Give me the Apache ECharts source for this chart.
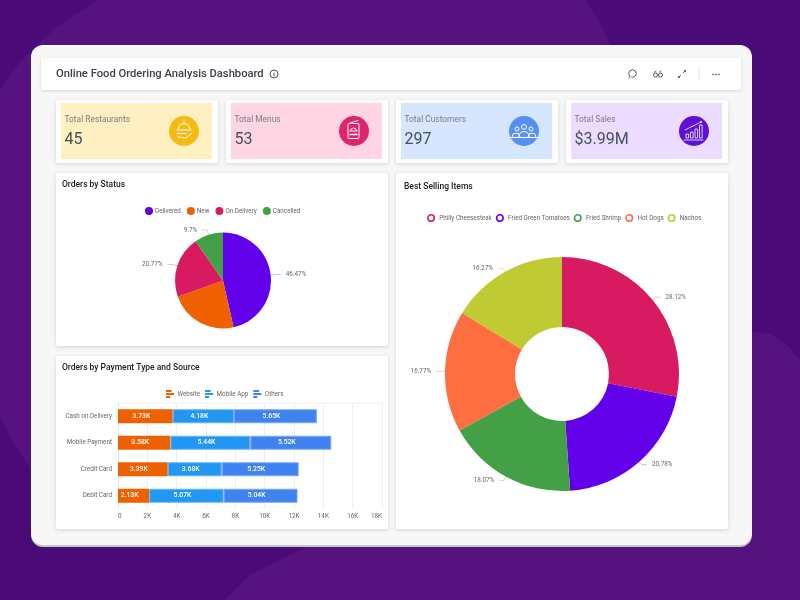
<!DOCTYPE html>
<html>
<head>
<meta charset="utf-8">
<title>Online Food Ordering Analysis Dashboard</title>
<style>
html,body{margin:0;padding:0;background:#4a0a78;}
#main{width:800px;height:600px;}
</style>
</head>
<body>
<div id="main"></div>
<script src="https://cdn.jsdelivr.net/npm/echarts@6/dist/echarts.min.js"></script>
<script>
// kpi cards
var kpiNames = ["Total Restaurants", "Total Menus", "Total Customers", "Total Sales"];
var kpiValues = ["45", "53", "297", "$3.99M"];
// orders by status
var statusNames = ["Delivered", "New", "On Delivery", "Cancelled"];
var statusValues = [46.47, 23.06, 20.77, 9.7];
var statusColors = ["#6200ea", "#ef6100", "#d81b60", "#43a047"];
// best selling items
var itemNames = ["Philly Cheesesteak", "Fried Green Tomatoes", "Fried Shrimp", "Hot Dogs", "Nachos"];
var itemValues = [28.12, 20.78, 18.07, 16.77, 16.27];
var itemColors = ["#d81b60", "#6200ea", "#43a047", "#ff6e40", "#c0ca33"];
// payment type and source
var payTypes = ["Cash on Delivery", "Mobile Payment", "Credit Card", "Debit Card"];
var sourceNames = ["Website", "Mobile App", "Others"];
var websiteValues = [3730, 3580, 3390, 2130];
var mobileValues = [4180, 5440, 3680, 5070];
var otherValues = [5650, 5520, 5250, 5040];
var payColors = ["#ef6100", "#2196f3", "#3f83f0"];
var payBorders = ["#f58a45", "#64b5f6", "#7aa9f5"];

var font = "Roboto";
var chart = echarts.init(document.getElementById("main"));

function rect(x, y, w, h, fill, r, shadow) {
    return {
        type: "rect", silent: true,
        shape: {x: x, y: y, width: w, height: h, r: r || 0},
        style: {
            fill: fill,
            shadowBlur: shadow || 0,
            shadowColor: "rgba(60,60,60,0.18)",
            shadowOffsetY: shadow ? 1 : 0
        }
    };
}
function text(x, y, str, size, color, weight) {
    return {
        type: "text", silent: true, x: x, y: y,
        style: {text: str, fontFamily: font, fontSize: size, fill: color, fontWeight: weight || 400, verticalAlign: "middle"}
    };
}
function line(x1, y1, x2, y2, color, w) {
    return {type: "line", silent: true, shape: {x1: x1, y1: y1, x2: x2, y2: y2}, style: {stroke: color, lineWidth: w || 1, lineCap: "round"}};
}
function ring(x, y, r, color, w) {
    return {type: "circle", silent: true, shape: {cx: x, cy: y, r: r}, style: {fill: "none", stroke: color, lineWidth: w || 1}};
}
function dot(x, y, r, color) {
    return {type: "circle", silent: true, shape: {cx: x, cy: y, r: r}, style: {fill: color}};
}
function arc(x, y, r, a, b, color, w) {
    return {type: "arc", silent: true, shape: {cx: x, cy: y, r: r, startAngle: a, endAngle: b}, style: {fill: "none", stroke: color, lineWidth: w || 1}};
}

var g = [];
// backdrop blob
g.push({
    type: "polygon", silent: true,
    shape: {
        points: [[97, 0], [585, 0], [600, 22], [612, 50], [752, 331], [770, 334], [786, 344], [800, 360], [800, 600], [225, 600],
            [250, 575], [306, 547], [31, 470], [13, 442], [0, 417], [0, 90], [20, 62], [55, 28]]
    },
    style: {fill: "#56137f"}
});
// main panel
g.push(rect(31, 47, 721, 500, "#c9c5cc", 12, 6));
g.push(rect(31, 45, 721, 500, "#f7f7f7", 12));
g.push(rect(41, 58, 700, 32, "#ffffff", 2, 3));
g.push(text(56, 74, "Online Food Ordering Analysis Dashboard", 11.2, "#3a3f4a", 500));
// info icon
g.push(ring(274, 74, 4, "#444", 0.9), line(274, 73.5, 274, 76, "#444", 0.9), dot(274, 72, 0.5, "#444"));
// header icons
g.push(arc(632.5, 73.5, 3.7, 2.4, 1.9 + Math.PI * 2, "#444", 0.9), line(630, 76.5, 629, 78, "#444", 0.9));
g.push(ring(655.5, 75, 2, "#444", 0.9), ring(660.5, 75, 2, "#444", 0.9), line(654.5, 72, 656, 71, "#444", 0.8), line(659.5, 72, 661, 71, "#444", 0.8));
g.push(line(679, 77, 681, 75, "#444", 0.8), line(683, 73, 685, 71, "#444", 0.8), dot(685, 71, 1, "#444"), dot(679, 77, 1, "#444"));
g.push(line(699, 68, 699, 80, "#e4e4e4", 1));
g.push(dot(713, 74.5, 0.8, "#444"), dot(716, 74.5, 0.8, "#444"), dot(719, 74.5, 0.8, "#444"));

// kpi cards
var kpiX = [56, 226, 396, 566];
var kpiFill = ["#fff0c2", "#ffd5e3", "#d7e6ff", "#ecdcff"];
var kpiIcon = ["#f5bb12", "#e0246c", "#5590f2", "#5e10d8"];
for (var i = 0; i < 4; i++) {
    g.push(rect(kpiX[i], 100, 162, 63, "#ffffff", 2, 4));
    g.push(rect(kpiX[i] + 5, 103, 151, 56, kpiFill[i], 0));
    g.push(text(kpiX[i] + 8.5, 120, kpiNames[i], 8.4, "#7d7d85"));
    g.push(text(kpiX[i] + 8.5, 139.5, kpiValues[i], 16, "#454f5e"));
    g.push(dot(kpiX[i] + 128, 131, 15, kpiIcon[i]));
}
// cloche icon
g.push(arc(184, 129.5, 6, Math.PI, 0, "#fff", 1), line(177, 130, 191, 130, "#fff", 1), ring(184, 122.5, 1, "#fff", 0.8));
g.push(line(177, 133.5, 186, 133.5, "#fff", 1), line(178, 137, 186, 138, "#fff", 1), line(186, 138, 192, 133, "#fff", 1));
// menu icon
g.push({type: "rect", silent: true, shape: {x: 348, y: 123.5, width: 11, height: 15, r: 1}, style: {fill: "none", stroke: "#fff", lineWidth: 1}});
g.push(arc(353.5, 131, 3, Math.PI, 0, "#fff", 1), line(350, 131, 357, 131, "#fff", 1), line(350, 134.5, 357, 134.5, "#fff", 1.4), line(350, 123, 358, 120.5, "#fff", 1));
// people icon
g.push(ring(524, 127, 2.4, "#fff", 1), ring(517, 129, 2, "#fff", 1), ring(531, 129, 2, "#fff", 1));
g.push(arc(524, 137, 5.5, Math.PI, 0, "#fff", 1), arc(516, 137, 4, Math.PI, 0, "#fff", 1), arc(532, 137, 4, Math.PI, 0, "#fff", 1), line(511, 137.5, 537, 137.5, "#fff", 1));
// growth icon
var barH = [4, 6, 9, 13];
for (var j = 0; j < 4; j++) {
    g.push({type: "rect", silent: true, shape: {x: 686 + j * 4.5, y: 138 - barH[j], width: 2.6, height: barH[j]}, style: {fill: "none", stroke: "#fff", lineWidth: 0.8}});
}
g.push(line(684, 140, 703, 140, "#fff", 0.8), line(685, 130, 693, 126, "#fff", 0.8), line(693, 126, 701, 122, "#fff", 0.8), dot(701, 122, 1, "#fff"));

// chart cards
g.push(rect(56, 173, 332, 173, "#ffffff", 2, 4));
g.push(rect(56, 356, 332, 173, "#ffffff", 2, 4));
g.push(rect(396, 173, 332, 356, "#ffffff", 2, 4));
// top edge of the bar plot
g.push(line(118, 403, 382, 403, "#eeeeee", 1));

function pieData(names, values, colors) {
    return names.map(function (n, i) {
        return {name: n, value: values[i], itemStyle: {color: colors[i]}};
    });
}
var statusData = pieData(statusNames, statusValues, statusColors);
// the New slice carries no label in the reference
statusData[1].label = {show: false};
statusData[1].labelLine = {show: false};

var barIcon = "path://M0 0H70V26H0ZM0 37H100V63H0ZM0 74H50V100H0Z";

function barSeries(name, values, idx) {
    return {
        name: name, type: "bar", stack: "pay", barWidth: 14,
        data: values,
        itemStyle: {color: payColors[idx], borderColor: payBorders[idx], borderWidth: idx == 0 ? 0 : 1},
        label: {
            show: true, position: "inside", offset: [-4, 0], color: "#fff", fontFamily: font, fontSize: 6.8, fontWeight: 500,
            formatter: function (p) { return (p.value / 1000).toFixed(2) + "K"; }
        }
    };
}

var titleStyle = {fontFamily: font, fontSize: 8.5, fontWeight: 500, color: "#222"};
var option = {
    animation: false,
    backgroundColor: "#4a0a78",
    textStyle: {fontFamily: font},
    graphic: {elements: g},
    title: [
        {text: "Orders by Status", left: 62, top: 180, padding: 0, textStyle: titleStyle},
        {text: "Orders by Payment Type and Source", left: 62, top: 363, padding: 0, textStyle: titleStyle},
        {text: "Best Selling Items", left: 404, top: 182, padding: 0, textStyle: titleStyle}
    ],
    legend: [
        {
            data: statusNames, left: 145, top: 207, padding: 0, icon: "circle",
            itemWidth: 8, itemHeight: 8, itemGap: 6,
            textStyle: {fontFamily: font, fontSize: 6.3, color: "#666", padding: [0, 0, 0, -3]}
        },
        {
            data: itemNames.map(function (n, i) {
                return {name: n, itemStyle: {color: "#fff", borderColor: itemColors[i], borderWidth: 1.6}};
            }),
            left: 427, top: 214, padding: 0, icon: "circle",
            itemWidth: 6.5, itemHeight: 6.5, itemGap: 3.8,
            textStyle: {fontFamily: font, fontSize: 6.3, color: "#666"}
        },
        {
            data: sourceNames.map(function (n) {
                return {name: n, itemStyle: {borderWidth: 0}};
            }),
            left: 166, top: 390, padding: 0, icon: barIcon,
            itemWidth: 9, itemHeight: 8, itemGap: 5,
            textStyle: {fontFamily: font, fontSize: 6.3, color: "#666", padding: [0, 0, 0, -2]}
        }
    ],
    grid: {left: 118, top: 403, width: 264, height: 106},
    xAxis: {
        type: "value", min: 0, max: 18000, interval: 2000,
        axisLine: {show: false},
        axisTick: {show: false},
        splitLine: {lineStyle: {color: "#eeeeee"}},
        axisLabel: {
            fontFamily: font, fontSize: 6.3, color: "#666", margin: 4,
            alignMinLabel: "left", alignMaxLabel: "right",
            formatter: function (v) { return v == 0 ? "0" : v / 1000 + "K"; }
        }
    },
    yAxis: {
        type: "category", inverse: true, data: payTypes,
        axisLine: {lineStyle: {color: "#e6e6e6"}},
        axisTick: {length: 3, lineStyle: {color: "#e6e6e6"}},
        axisLabel: {fontFamily: font, fontSize: 6.3, color: "#666", margin: 6}
    },
    series: [
        {
            type: "pie", name: "Orders by Status", radius: 48, center: [223, 280.5],
            startAngle: 90, clockwise: true,
            data: statusData,
            label: {formatter: "{c}%", fontFamily: font, fontSize: 6.3, color: "#666"},
            labelLine: {length: 5, length2: 5, lineStyle: {width: 0.8, opacity: 0.4}}
        },
        {
            type: "pie", name: "Best Selling Items", radius: [47, 117], center: [562, 374],
            startAngle: 90, clockwise: true,
            data: pieData(itemNames, itemValues, itemColors),
            label: {formatter: "{c}%", fontFamily: font, fontSize: 6.3, color: "#666"},
            labelLine: {length: 4, length2: 5, lineStyle: {width: 0.8, opacity: 0.4}}
        },
        barSeries("Website", websiteValues, 0),
        barSeries("Mobile App", mobileValues, 1),
        barSeries("Others", otherValues, 2)
    ]
};
chart.setOption(option);
</script>
</body>
</html>
